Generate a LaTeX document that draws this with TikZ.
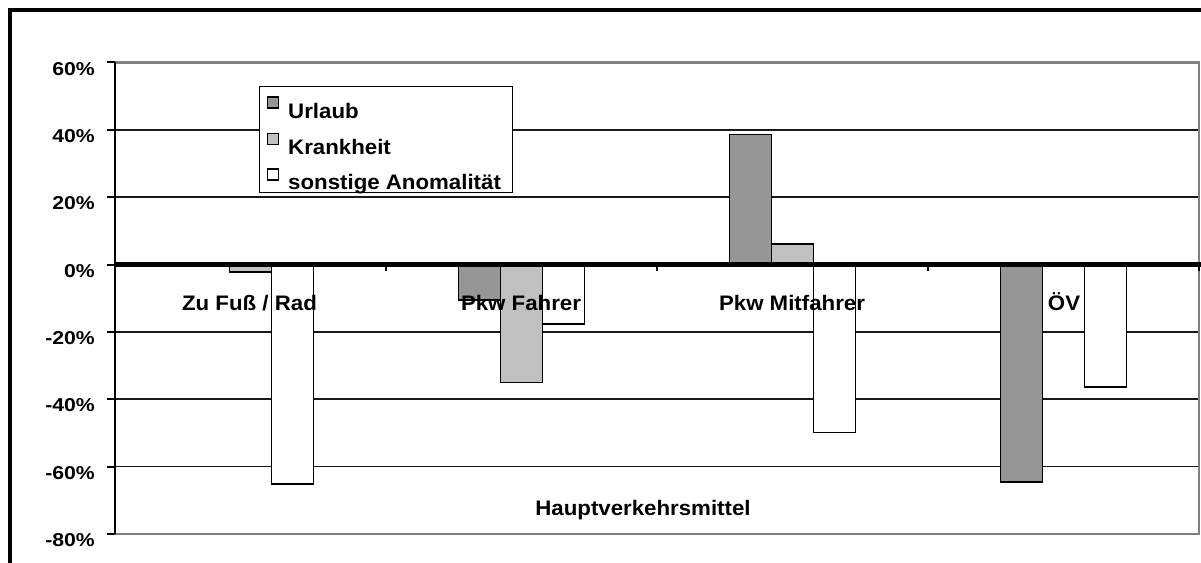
\documentclass[tikz,border=0pt]{standalone}
\usepackage{fontspec}
\setmainfont{Liberation Sans}
\newfontfamily\catfont[FakeStretch=1.06]{Liberation Sans}
\newfontfamily\yfont[FakeStretch=1.14]{Liberation Sans}
\definecolor{urlaubgray}{RGB}{150,150,150}
\definecolor{krankgray}{RGB}{192,192,192}
\definecolor{bordergray}{RGB}{128,128,128}
\begin{document}
\begin{tikzpicture}[x=1pt,y=-1pt,
  gridline/.style={line width=1.8pt, black!90},
  plotborder/.style={line width=2.5pt, bordergray},
  barbox/.style={draw=black, line width=1.8pt},
  urlaub/.style={barbox, fill=urlaubgray},
  krank/.style={barbox, fill=krankgray},
  sonst/.style={barbox, fill=white},
  lbl/.style={font=\catfont\fontsize{21}{25}\selectfont\bfseries, inner sep=0pt},
  ylbl/.style={font=\yfont\fontsize{18.6}{22}\selectfont\bfseries, inner sep=0pt},
  swatch/.style={draw=black, line width=1.3pt, minimum size=11pt, inner sep=0pt},
  ]
\useasboundingbox (0,0) rectangle (1201,562);
\clip (0,0) rectangle (1201,562);
\fill[white] (0,0) rectangle (1201,562);
% outer frame
\draw[line width=3.5pt] (10,600) -- (10,10) -- (1250,10);
% gridlines
\foreach \k in {40,20,-20,-40,-60}
  \draw[gridline] (115,{264.5-3.3675*\k}) -- (1199,{264.5-3.3675*\k});
\draw[plotborder] (115,62.45) -- (1199,62.45) -- (1199,533.9) -- (115,533.9);
% bars: Zu Fuss / Rad
\draw[krank] (229.5,264.5) rectangle (271.5,272.2);
\draw[sonst] (271.5,264.5) rectangle (313.5,484.1);
% Pkw Fahrer
\draw[urlaub] (458.5,264.5) rectangle (500.5,299.9);
\draw[krank] (500.5,264.5) rectangle (542.5,382.4);
\draw[sonst] (542.5,264.5) rectangle (584.5,324.1);
% Pkw Mitfahrer
\draw[urlaub] (729.5,264.5) rectangle (771.5,134.5);
\draw[krank] (771.5,264.5) rectangle (813.5,244.3);
\draw[sonst] (813.5,264.5) rectangle (855.5,432.5);
% OeV
\draw[urlaub] (1000.5,264.5) rectangle (1042.5,482.0);
\draw[sonst] (1084.5,264.5) rectangle (1126.5,386.7);
% y axis and ticks
\draw[line width=2.3pt] (115,62.45) -- (115,533.9);
\foreach \k in {60,40,20,0,-20,-40,-60,-80}
  \draw[line width=2pt] (107,{264.5-3.3675*\k}) -- (115,{264.5-3.3675*\k});
% zero axis and ticks
\draw[line width=5pt] (115,264.5) -- (1205,264.5);
\foreach \x in {115,386,657,928,1199}
  \draw[line width=2.5pt] (\x,264.5) -- (\x,271);
% y labels
\foreach \k/\t in {60/60\%,40/40\%,20/20\%,0/0\%,-20/-20\%,-40/-40\%,-60/-60\%,-80/-80\%}
  \node[ylbl, anchor=base east] (y\k) at (95,{264.5-3.3675*\k+12.7}) {\t};
% category labels
\node[lbl, anchor=base] (c1) at (249.5,310.5) {Zu Fuß / Rad};
\node[lbl, anchor=base] (c2) at (521,310.5) {Pkw Fahrer};
\node[lbl, anchor=base] (c3) at (792,310.5) {Pkw Mitfahrer};
\node[lbl, anchor=base] (c4) at (1064,310.5) {ÖV};
\node[lbl, anchor=base] (title) at (643,515) {Hauptverkehrsmittel};
% legend
\draw[line width=1.6pt, fill=white] (259.5,86.5) rectangle (512.5,192.5);
\node[swatch, fill=urlaubgray] (s1) at (273,102.5) {};
\node[swatch, fill=krankgray] (s2) at (273,139) {};
\node[swatch, fill=white] (s3) at (273,174.5) {};
\node[lbl, anchor=base west] (l1) at (288,118.3) {Urlaub};
\node[lbl, anchor=base west] (l2) at (288,154) {Krankheit};
\node[lbl, anchor=base west] (l3) at (288,189) {sonstige Anomalität};
\end{tikzpicture}
\end{document}
